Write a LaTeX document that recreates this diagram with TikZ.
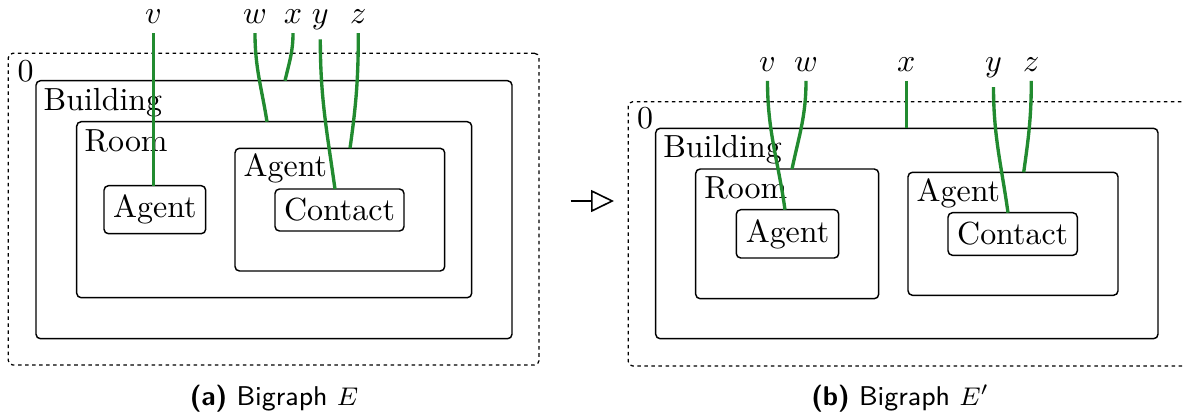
\documentclass[tikz,border=0pt]{standalone}
\usetikzlibrary{fit,calc,arrows.meta}
\definecolor{linkgreen}{RGB}{34,139,48}
\begin{document}
\begin{tikzpicture}[x=0.313pt,y=-0.313pt,
  box/.style={draw, rounded corners=1.4pt, inner sep=0pt, outer sep=0pt, line width=0.45pt},
  region/.style={draw, dash pattern=on 1.1pt off 1.1pt, rounded corners=1.4pt, inner sep=0pt, outer sep=0pt, line width=0.4pt},
  lbl/.style={anchor=base west, inner sep=0pt},
  linkname/.style={inner sep=0pt, outer sep=3.1pt, anchor=base},
  link/.style={draw=linkgreen, line width=1.05pt},
  captext/.style={anchor=base, font=\sffamily\fontsize{8.5}{10}\selectfont, inner sep=0pt}]
\useasboundingbox (0,0) rectangle (1183,414);
\clip (0,0) rectangle (1183,414);

% ---------------- panel (a) ----------------
\node[region, fit={(8.3,53.3) (539,365)}] (rootA) {};
\node[lbl] (zeroA) at (17,81.5) {0};
\node[box, fit={(36,80.7) (512,338.7)}] (bldA) {};
\node[lbl] (bldAt) at ($(bldA.north west)+(7,29.3)$) {Building};
\node[box, fit={(76.7,121.7) (471.7,297.7)}] (roomA) {};
\node[lbl] (roomAt) at ($(roomA.north west)+(7.3,30)$) {Room};
\node[box, fit={(235,148.3) (444.7,271)}] (agA) {};
\node[lbl] (agAt) at ($(agA.north west)+(8,28.4)$) {Agent};
\node[box, fit={(104,185.7) (205.7,233.7)}, label=center:Agent] (agentA) {};
\node[box, fit={(275,189) (404,231)}, label=center:Contact] (contA) {};

\node[linkname] (vA) at (153.5,23.3) {$v$};
\node[linkname] (wA) at (255,23.3) {$w$};
\node[linkname] (xA) at (293,23.3) {$x$};
\node[linkname] (yA) at (320.3,23.3) {$y$};
\node[linkname] (zA) at (358.3,23.3) {$z$};

\draw[link] (vA) -- (vA |- agentA.north);
\draw[link] (wA) to[out=-90,in=99] ($(roomA.north west)+(190.3,0)$);
\draw[link] (xA) to[out=-90,in=77] ($(bldA.north west)+(249,0)$);
\draw[link] (yA) to[out=-90,in=98] ($(contA.north west)+(60,0)$);
\draw[link] (zA) to[out=-90,in=82] ($(agA.north west)+(115,0)$);

\node[captext] (capA) at (274,405) {\textbf{(a)} Bigraph $E$};

% ---------------- arrow ----------------
\coordinate (arrS) at (570.7,201);
\coordinate (arrE) at (614,201);
\draw[line width=0.5pt, -{Triangle[open, length=7.2pt, width=6.9pt]}] (arrS) -- (arrE);

% ---------------- panel (b) ----------------
\node[region, fit={(628.3,101.7) (1200,366)}] (rootB) {};
\node[lbl] (zeroB) at (636.5,128) {0};
\node[box, fit={(655.7,128.3) (1158,338.7)}] (bldB) {};
\node[lbl] (bldBt) at ($(bldB.north west)+(7,29.4)$) {Building};
\node[box, fit={(695.7,169) (878.7,298.7)}] (roomB) {};
\node[lbl] (roomBt) at ($(roomB.north west)+(8,29)$) {Room};
\node[box, fit={(736.3,209.7) (838.7,258)}, label=center:Agent] (agentB) {};
\node[box, fit={(908,172.3) (1118,295.3)}] (agB) {};
\node[lbl] (agBt) at ($(agB.north west)+(8,29.4)$) {Agent};
\node[box, fit={(948,212.7) (1077.3,255.3)}, label=center:Contact] (contB) {};

\node[linkname] (vB) at (767.5,71) {$v$};
\node[linkname] (wB) at (806,71) {$w$};
\node[linkname] (xB) at (906.3,71) {$x$};
\node[linkname] (yB) at (993.5,71) {$y$};
\node[linkname] (zB) at (1031.3,71) {$z$};

\draw[link] (vB) to[out=-90,in=98] ($(agentB.north west)+(48.7,0)$);
\draw[link] (wB) to[out=-90,in=78] ($(roomB.north west)+(96.3,0)$);
\draw[link] (xB) -- (xB |- bldB.north);
\draw[link] (yB) to[out=-90,in=98] ($(contB.north west)+(60,0)$);
\draw[link] (zB) to[out=-90,in=82] ($(agB.north west)+(115.7,0)$);

\node[captext] (capB) at (900.3,405) {\textbf{(b)} Bigraph $E'$};
\end{tikzpicture}
\end{document}
